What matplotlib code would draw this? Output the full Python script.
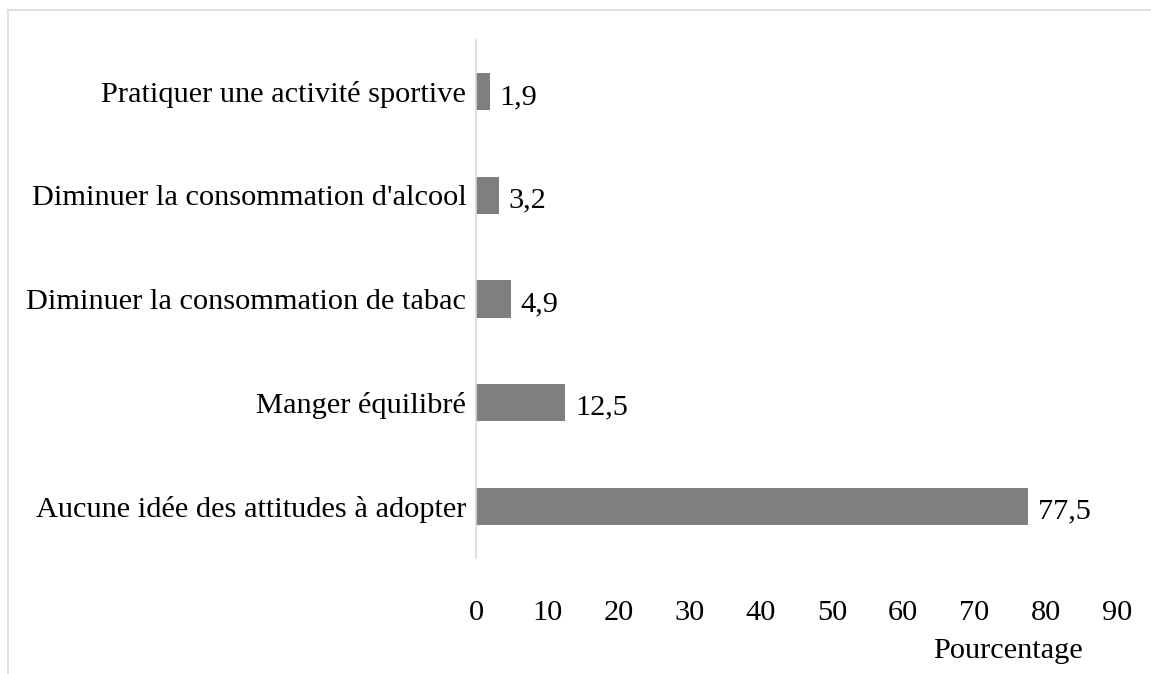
import matplotlib.pyplot as plt
from matplotlib.lines import Line2D

categories = [
    "Aucune idée des attitudes à adopter",
    "Manger équilibré",
    "Diminuer la consommation de tabac",
    "Diminuer la consommation d'alcool",
    "Pratiquer une activité sportive",
]
values = [77.5, 12.5, 4.9, 3.2, 1.9]
x_ticks = [0, 10, 20, 30, 40, 50, 60, 70, 80, 90]

plt.rcParams['font.family'] = ['Liberation Serif', 'DejaVu Serif']
fs = 21.9

fig = plt.figure(figsize=(11.51, 6.74), dpi=100)
ax = fig.add_axes([476 / 1151, 1 - 558 / 674, (1117 - 476) / 1151, (558 - 40) / 674])

pos = range(len(categories))
ax.barh(pos, values, height=0.36, color='#7f7f7f')

for p, v in zip(pos, values):
    ax.text(v + 1.4, p - 0.05, f"{v:.1f}".replace('.', ','), va='center', ha='left',
            fontsize=fs, color='black')

ax.set_xlim(0, 90)
ax.set_ylim(-0.5, len(categories) - 0.5)
ax.set_yticks(list(pos))
ax.set_yticklabels(categories, fontsize=fs)
ax.set_xticks(x_ticks)
ax.set_xticklabels([str(t) for t in x_ticks], fontsize=fs)
ax.tick_params(axis='y', length=0, pad=7)
ax.tick_params(axis='x', length=0, pad=30)

for s in ['top', 'right', 'bottom']:
    ax.spines[s].set_visible(False)
ax.spines['left'].set_color('#d9d9d9')
ax.spines['left'].set_linewidth(1.2)

fig.text(1008 / 1151, 1 - 651 / 674, "Pourcentage", ha='center', va='center', fontsize=fs)

# cadre gris clair (haut et gauche)
fig.add_artist(Line2D([8 / 1151, 1], [1 - 10 / 674, 1 - 10 / 674], color='#d9d9d9', lw=1.2))
fig.add_artist(Line2D([8 / 1151, 8 / 1151], [0, 1 - 10 / 674], color='#d9d9d9', lw=1.2))

fig.savefig("out.png", dpi=100)
